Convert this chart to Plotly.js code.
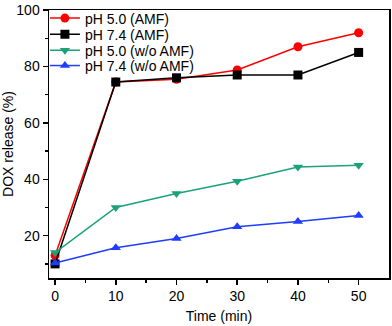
<!DOCTYPE html>
<html>
<head>
<meta charset="utf-8">
<script src="https://cdn.plot.ly/plotly-3.0.1.min.js"></script>
<style>
  html, body { margin: 0; padding: 0; background: #fff; }
  #chart { width: 392px; height: 326px; }
</style>
</head>
<body>
<div id="chart"></div>
<script>
// time points (min)
var time = [0, 10, 20, 30, 40, 50];

// DOX release (%)
var ph50Amf = [13, 74.5, 75.5, 78.8, 87, 92];
var ph74Amf = [10, 74.5, 76, 77, 77, 85];
var ph50NoAmf = [14, 30, 35, 39.3, 44.4, 45];
var ph74NoAmf = [10.3, 15.7, 19, 23.2, 25, 27.2];

var seriesNames = ["pH 5.0 (AMF)", "pH 7.4 (AMF)", "pH 5.0 (w/o AMF)", "pH 7.4 (w/o AMF)"];
var seriesColors = ["#ff0000", "#000000", "#1ba27a", "#1f3cff"];
var seriesSymbols = ["circle", "square", "triangle-down", "triangle-up"];
var seriesValues = [ph50Amf, ph74Amf, ph50NoAmf, ph74NoAmf];

// one legend per trace so the rows can sit closer than plotly's minimum row height
var legendIds = ["legend", "legend2", "legend3", "legend4"];
var legendTops = [1.028, 0.968, 0.908, 0.851];

var font = {family: "Liberation Sans, Arial, sans-serif", color: "#000"};

var traces = [];
for (let i = 0; i < seriesValues.length; i++) {
    traces.push({
        x: time,
        y: seriesValues[i],
        mode: "lines+markers",
        name: seriesNames[i],
        legend: legendIds[i],
        line: {color: seriesColors[i], width: 1.5},
        marker: {color: seriesColors[i], symbol: seriesSymbols[i], size: 9}
    });
}

var layout = {
    width: 392,
    height: 326,
    margin: {l: 49, r: 3, t: 8, b: 48},
    paper_bgcolor: "#fff",
    plot_bgcolor: "#fff",
    font: font,
    showlegend: true,
    xaxis: {
        range: [-1, 55],
        tickvals: [0, 10, 20, 30, 40, 50],
        ticks: "outside", ticklen: 5, tickwidth: 1.5, tickcolor: "#000",
        minor: {tickvals: [5, 15, 25, 35, 45], ticks: "outside", ticklen: 3, tickwidth: 1.5, tickcolor: "#000"},
        showgrid: false, zeroline: false,
        showline: true, linecolor: "#000", linewidth: 1.5, mirror: true,
        tickfont: {family: font.family, size: 14, color: "#000"},
        title: {text: "Time (min)", font: {family: font.family, size: 14, color: "#000"}, standoff: 8}
    },
    yaxis: {
        range: [5, 100.05],
        tickvals: [20, 40, 60, 80, 100],
        ticks: "outside", ticklen: 5, tickwidth: 1.5, tickcolor: "#000",
        minor: {tickvals: [10, 30, 50, 70, 90], ticks: "outside", ticklen: 3, tickwidth: 1.5, tickcolor: "#000"},
        showgrid: false, zeroline: false,
        showline: true, linecolor: "#000", linewidth: 1.5, mirror: true,
        tickfont: {family: font.family, size: 14, color: "#000"},
        title: {text: "DOX release (%)", font: {family: font.family, size: 14, color: "#000"}, standoff: 4}
    }
};

for (let i = 0; i < legendIds.length; i++) {
    layout[legendIds[i]] = {
        x: -0.012, y: legendTops[i], xanchor: "left", yanchor: "top",
        bgcolor: "rgba(0,0,0,0)",
        font: {family: font.family, size: 14, color: "#000"}
    };
}

Plotly.newPlot("chart", traces, layout, {displayModeBar: false, staticPlot: true});
</script>
</body>
</html>
